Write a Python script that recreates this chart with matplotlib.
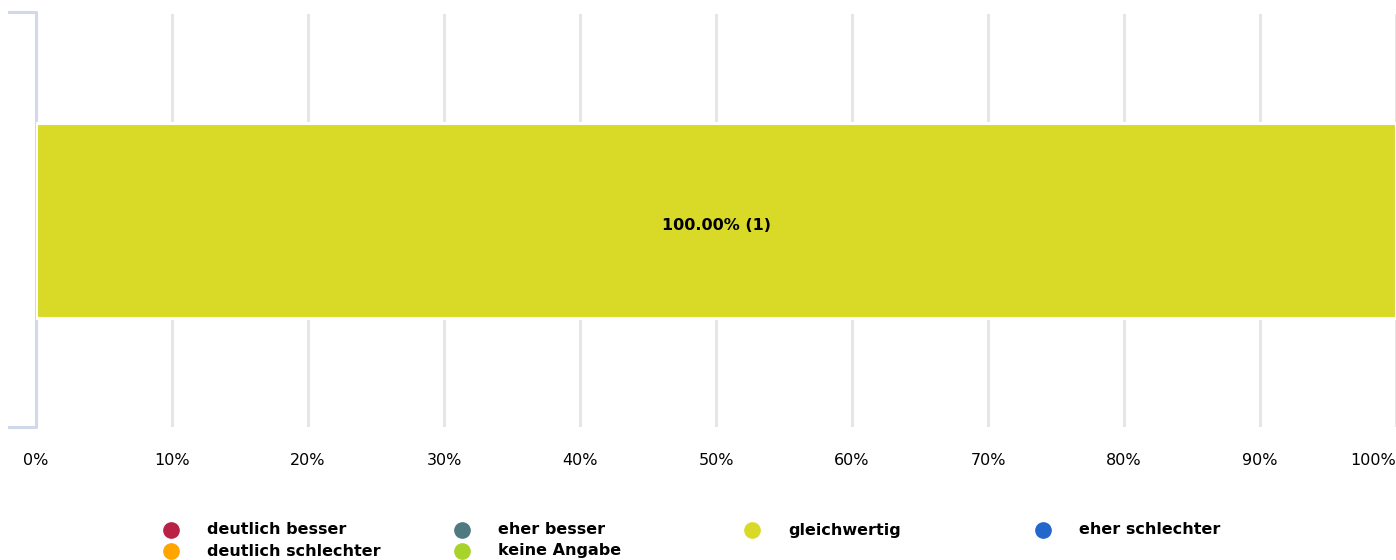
import matplotlib.pyplot as plt
from matplotlib.lines import Line2D

plt.rcParams['font.family'] = ['DejaVu Sans']

# data
categories = ['deutlich besser', 'eher besser', 'gleichwertig', 'eher schlechter',
              'deutlich schlechter', 'keine Angabe']
counts = [0, 0, 1, 0, 0, 0]
colors = ['#b92145', '#4f7a80', '#d9da28', '#2366cc', '#ffa500', '#a8d32a']
xticks = [0, 10, 20, 30, 40, 50, 60, 70, 80, 90, 100]

W, H = 1396, 560
fig = plt.figure(figsize=(W / 100, H / 100), dpi=100)
ax = fig.add_axes([36 / W, 1 - 427 / H, 1360 / W, 413 / H])

total = sum(counts)
left = 0
for cat, n, col in zip(categories, counts, colors):
    pct = n / total * 100
    ax.barh(0, pct, left=left, height=0.47, color=col, edgecolor='white',
            linewidth=2.2, zorder=3)
    if n > 0:
        ax.text(left + pct / 2, -0.012, f'{pct:.2f}% ({n})', ha='center', va='center',
                fontsize=11.5, fontweight='bold', color='black', zorder=4)
    left += pct

ax.set_xlim(0, 100)
ax.set_ylim(-0.5, 0.5)
ax.set_yticks([])
ax.set_xticks(xticks)
ax.set_xticklabels([f'{t}%' for t in xticks], fontsize=11.5)
ax.get_xticklabels()[-1].set_horizontalalignment('right')
ax.tick_params(axis='x', length=0, pad=19)
ax.grid(axis='x', color='#e6e6e6', linewidth=2.2, zorder=0)
for s in ax.spines.values():
    s.set_visible(False)

# bracket-like left axis
x0 = -27 / 1360
ax.add_line(Line2D([x0, 0, 0, x0], [1 + 2 / 413, 1 + 2 / 413, 0, 0],
                   transform=ax.transAxes, color='#d0d8ea', linewidth=2.2,
                   clip_on=False))

# legend
rows = [530, 551]
mx = [171, 462, 752, 1043]
for i, (cat, col) in enumerate(zip(categories, colors)):
    r, c = divmod(i, 4)
    y = 1 - rows[r] / H
    fig.add_artist(Line2D([mx[c] / W], [y], marker='o', markersize=11,
                          color=col, linestyle='none'))
    fig.text((mx[c] + 36) / W, y, cat, fontsize=11.5, fontweight='bold',
             va='center', ha='left')

fig.savefig('out.png', dpi=100)
